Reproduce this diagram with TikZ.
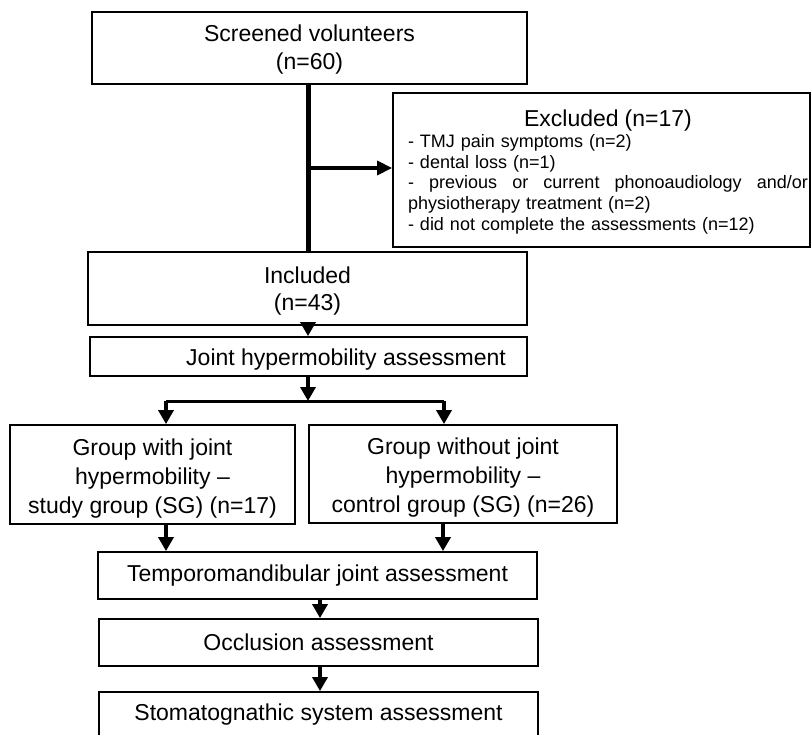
\documentclass[tikz,border=0pt]{standalone}
\usepackage{fontspec}
\setmainfont{Liberation Sans}
\usetikzlibrary{arrows.meta,calc}
\newcommand{\lines}[2]{\raisebox{#1}[\height][\depth]{\begin{tabular}{@{}c@{}}#2\end{tabular}}}
\newcommand{\shiftline}[2]{\raisebox{#1}[\height][\depth]{#2}}
\begin{document}
\begin{tikzpicture}[x=1pt,y=-1pt,
  box/.style={draw, line width=1.8pt, inner sep=0pt, align=center, font=\fontsize{23}{28}\selectfont},
  arr/.style={line width=3.5pt, -{Triangle[length=14pt,width=15pt]}},
  bigarr/.style={line width=3.5pt, -{Triangle[length=15pt,width=14pt]}},
  thickline/.style={line width=5pt},
]
\useasboundingbox (0,0) rectangle (811,735);
\clip (0,0) rectangle (811,735);
\fill[white] (0,0) rectangle (811,735);

\node[box, minimum width=435pt, minimum height=72pt] (screened) at (309.5,48) {\lines{-1.5pt}{Screened volunteers\\(n=60)}};
\node[box, minimum width=417pt, minimum height=154pt] (excl) at (601.5,170) {};
\node[anchor=center, text width=400pt, align=left, inner sep=0pt, font=\fontsize{18}{20.7}\selectfont] (excltxt) at (608,172) {%
{\fontsize{23}{23}\selectfont\makebox[400pt]{Excluded (n=17)}}\\
- TMJ pain symptoms (n=2)\\
- dental loss (n=1)\\
\makebox[400pt]{-\hfill previous\hfill or\hfill current\hfill phonoaudiology\hfill and/or}\\
physiotherapy treatment (n=2)\\
- did not complete the assessments (n=12)};
\node[box, minimum width=439pt, minimum height=73pt, font=\fontsize{23}{27}\selectfont] (included) at (307.5,288.5) {\lines{-3.5pt}{Included\\(n=43)}};
\node[box, minimum width=437pt, minimum height=39pt] (joint) at (308.5,356.5) {\shiftline{-3pt}{\hspace*{75pt}Joint hypermobility assessment}};
\node[box, minimum width=285pt, minimum height=99pt, font=\fontsize{23}{29}\selectfont] (gwith) at (152.5,474.5) {\lines{-4pt}{Group with joint\\hypermobility --\\study group (SG) (n=17)}};
\node[box, minimum width=308pt, minimum height=98pt, font=\fontsize{23}{29}\selectfont] (gwo) at (463,474) {\lines{-4pt}{Group without joint\\hypermobility --\\control group (SG) (n=26)}};
\node[box, minimum width=439pt, minimum height=47pt] (tmj) at (317.5,575.5) {Temporomandibular joint assessment};
\node[box, minimum width=439pt, minimum height=47pt] (occl) at (318.5,642.5) {Occlusion assessment};
\node[box, minimum width=439pt, minimum height=47pt] (stoma) at (318.5,715.5) {\shiftline{1pt}{Stomatognathic system assessment}};

\coordinate (branch) at (308,168);
\coordinate (split) at (308,401);
\coordinate (splitL) at (166,401);
\coordinate (splitR) at (444,401);
\coordinate (col) at (320,610);

\draw[thickline] (screened.south -| branch) -- (included.north -| branch);
\draw[bigarr] (branch) -- (branch -| excl.west);
\draw[arr] (included.south -| branch) -- (joint.north -| branch);
\draw[arr] (joint.south -| split) -- (split);
\draw[line width=3pt, line cap=square] (splitL) -- (splitR);
\draw[arr] (splitL) -- (splitL |- gwith.north);
\draw[arr] (splitR) -- (splitR |- gwo.north);
\draw[arr] (gwith.south -| splitL) -- (tmj.north -| splitL);
\draw[arr] ([xshift=-1pt]gwo.south -| splitR) -- ([xshift=-1pt]tmj.north -| splitR);
\draw[arr] (tmj.south -| col) -- (occl.north -| col);
\draw[arr] (occl.south -| col) -- (stoma.north -| col);
\end{tikzpicture}
\end{document}
